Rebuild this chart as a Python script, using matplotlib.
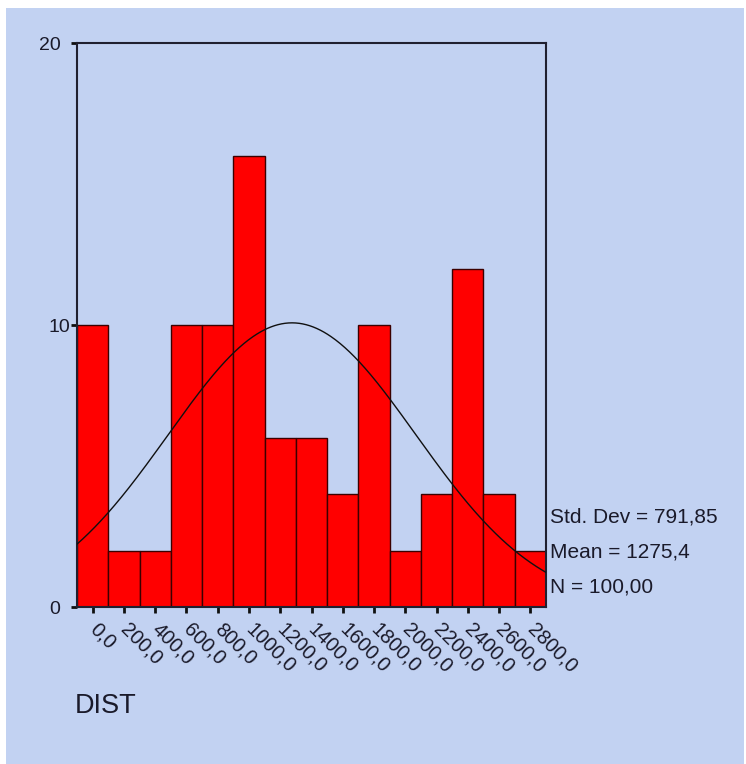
import numpy as np
import matplotlib
matplotlib.use("Agg")
import matplotlib.pyplot as plt
from matplotlib.patches import Rectangle
from matplotlib.transforms import ScaledTranslation

plt.rcParams['font.family'] = ['Liberation Sans', 'DejaVu Sans']

# Histogram of DIST: bin centres and counts
bin_centers = [0, 200, 400, 600, 800, 1000, 1200, 1400, 1600, 1800, 2000, 2200, 2400, 2600, 2800]
counts = [10, 2, 2, 10, 10, 16, 6, 6, 4, 10, 2, 4, 12, 4, 2]
tick_labels = ["0,0", "200,0", "400,0", "600,0", "800,0", "1000,0", "1200,0", "1400,0",
               "1600,0", "1800,0", "2000,0", "2200,0", "2400,0", "2600,0", "2800,0"]
bin_width = 200
std_dev = 791.85
mean = 1275.4
n_total = 100
y_ticks = [0, 10, 20]

bg = "#C2D2F2"
W, H = 746, 764
fig = plt.figure(figsize=(W / 100, H / 100), dpi=100)
fig.patch.set_facecolor("white")
fig.add_artist(Rectangle((6 / W, 0), (744 - 6) / W, (H - 8) / H,
                         transform=fig.transFigure, facecolor=bg, edgecolor="none", zorder=0))

ax = fig.add_axes([77 / W, (H - 607) / H, (546 - 77) / W, (607 - 43) / H])
ax.set_facecolor(bg)

ax.bar(bin_centers, counts, width=bin_width, color="#FF0000", edgecolor="#3a0000",
       linewidth=1.0, zorder=2)

# Normal curve scaled to counts per bin
xs = np.linspace(-100, 2900, 400)
ys = n_total * bin_width / (std_dev * np.sqrt(2 * np.pi)) * np.exp(-0.5 * ((xs - mean) / std_dev) ** 2)
ax.plot(xs, ys, color="#101010", linewidth=1.0, zorder=3)

ax.set_xlim(-100, 2900)
ax.set_ylim(0, 20)

for s in ax.spines.values():
    s.set_color("#202030")
    s.set_linewidth(1.5)

ax.set_yticks(y_ticks)
ax.set_yticklabels([str(v) for v in y_ticks], fontsize=14, color="#1a1a2a")
ax.tick_params(axis="y", length=4, width=2, color="#101010", pad=8)
# the middle label sits a little closer to the axis
mid = ax.get_yticklabels()[1]
mid.set_transform(mid.get_transform() + ScaledTranslation(0.1, 0, fig.dpi_scale_trans))

ax.set_xticks(bin_centers)
ax.set_xticklabels(tick_labels, rotation=-45, ha="left", va="center",
                   rotation_mode="anchor", fontsize=14.5, color="#1a1a2a")
ax.tick_params(axis="x", length=4, width=2, color="#101010", pad=10)

ax.text(1.008, 0.16, "Std. Dev = 791,85", transform=ax.transAxes, fontsize=15,
        color="#1a1a2a", va="center", ha="left")
ax.text(1.008, 0.098, "Mean = 1275,4", transform=ax.transAxes, fontsize=15,
        color="#1a1a2a", va="center", ha="left")
ax.text(1.008, 0.036, "N = 100,00", transform=ax.transAxes, fontsize=15,
        color="#1a1a2a", va="center", ha="left")

fig.text(75 / W, 1 - 706 / H, "DIST", fontsize=19.5, color="#1a1a2a", va="center", ha="left")

fig.savefig("out.png", dpi=100, facecolor=fig.get_facecolor())
